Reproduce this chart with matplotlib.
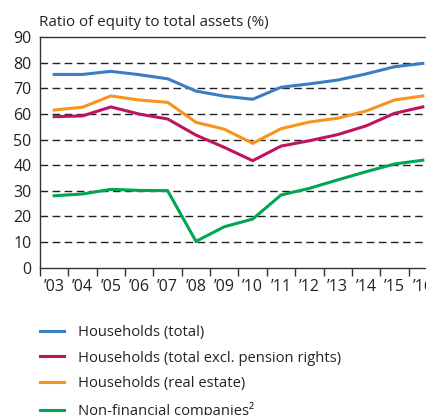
import matplotlib
matplotlib.use("Agg")
import matplotlib.pyplot as plt
from matplotlib.lines import Line2D

plt.rcParams['font.family'] = ['Open Sans', 'DejaVu Sans']

years = ["’03", "’04", "’05", "’06", "’07", "’08", "’09", "’10", "’11", "’12", "’13", "’14", "’15", "’16"]
hh_total = [75.5, 75.5, 76.7, 75.4, 73.8, 69.0, 67.0, 65.8, 70.5, 71.8, 73.3, 75.7, 78.5, 79.8]
hh_excl_pension = [59.0, 59.3, 62.8, 60.0, 58.1, 51.8, 47.0, 41.8, 47.5, 49.6, 52.0, 55.4, 60.3, 62.8]
hh_real_estate = [61.6, 62.7, 67.1, 65.5, 64.6, 56.8, 54.1, 48.6, 54.3, 56.9, 58.4, 61.2, 65.5, 67.1]
non_fin = [28.1, 28.8, 30.6, 30.2, 30.1, 10.3, 16.0, 19.0, 28.4, 31.0, 34.3, 37.5, 40.5, 42.0]
labels = ["Households (total)", "Households (total excl. pension rights)",
          "Households (real estate)", "Non-financial companies²"]
colors = ["#3b7cc4", "#c0135f", "#f7941d", "#00a651"]
yticks = [0, 10, 20, 30, 40, 50, 60, 70, 80, 90]

W, H = 427, 415
fig = plt.figure(figsize=(W / 100, H / 100), dpi=100)
ax = fig.add_axes([40 / W, 1 - 267.7 / H, 397 / W, 230.4 / H])

x = list(range(len(years)))
series = [hh_total, hh_excl_pension, hh_real_estate, non_fin]
for s, c in zip(series, colors):
    ax.plot(x, s, color=c, lw=2.2, solid_joinstyle='miter', zorder=3)

for v in yticks[1:-1]:
    ax.axhline(v, color='#222222', lw=1.0, dashes=(5.5, 3.2), zorder=1)

ax.set_xlim(-0.5, len(years) - 0.5)
ax.set_ylim(0, 90)
ax.set_yticks(yticks)
ax.set_yticklabels([str(v) for v in yticks])
ax.set_xticks(x)
ax.set_xticklabels(years)
ax.set_xticks([i - 0.5 for i in range(len(years) + 1)], minor=True)
ax.tick_params(axis='x', which='major', length=0, pad=8, labelsize=11.5, colors='#222222')
ax.tick_params(axis='x', which='minor', length=6, width=1, color='#333333', direction='out')
ax.tick_params(axis='y', length=0, pad=6, labelsize=11.5, colors='#222222')
for sp in ['left', 'top', 'bottom']:
    ax.spines[sp].set_color('#333333')
    ax.spines[sp].set_linewidth(1.0)
ax.spines['right'].set_visible(False)

fig.text(39 / W, 1 - 22 / H, "Ratio of equity to total assets (%)", fontsize=10.9,
         color='#222222', ha='left', va='center')

handles = [Line2D([0], [0], color=c, lw=2.2) for c in colors]
fig.legend(handles, labels, loc='upper left', bbox_to_anchor=(40 / W, 1 - 325 / H),
           frameon=False, fontsize=10.6, handlelength=1.6, handletextpad=1.0,
           labelspacing=0.72, borderaxespad=0, borderpad=0, labelcolor='#222222')

fig.savefig("out.png", dpi=100)
